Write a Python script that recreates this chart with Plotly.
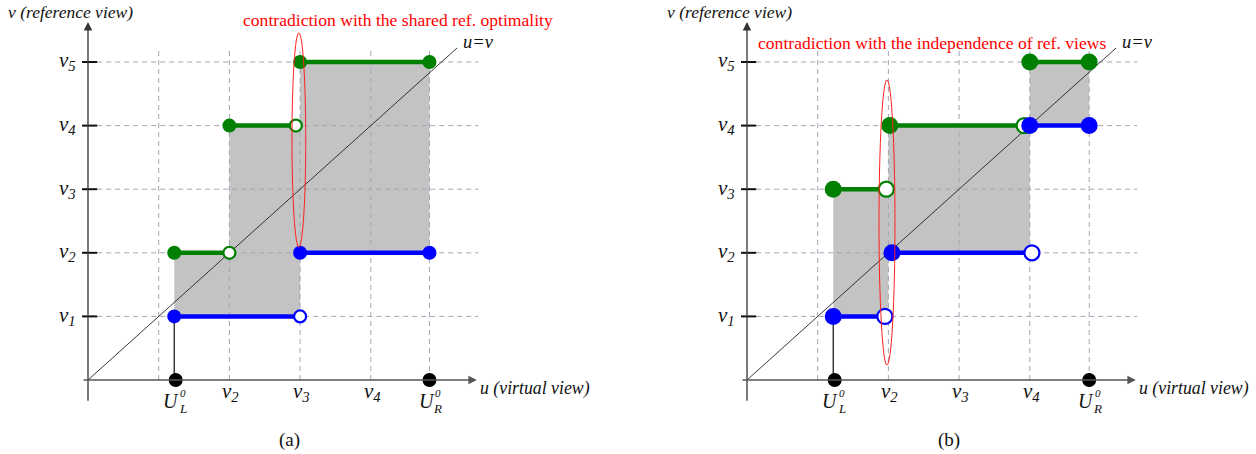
import plotly.graph_objects as go

# ---------------- data ----------------
LEVELS = [1, 2, 3, 4, 5]                 # v1..v5 (same positions on both axes, u=v)
LEVEL_NAMES = ["1", "2", "3", "4", "5"]
X_TICK_LEVELS = [2, 3, 4]                # v2, v3, v4 labelled on the u axis

# panel (a)
A_UL, A_UR = 1.22, 4.83
A_BREAKS = [1.22, 2.0, 3.0, 4.83]
A_LOWER = [1, 1, 2]
A_UPPER = [2, 4, 5]
A_GREEN_X0 = [1.22, 2.0, 3.0]
A_GREEN_X1 = [2.0, 2.94, 4.83]
A_GREEN_V = [2, 4, 5]
A_GREEN_OPEN_END = [True, True, False]
A_BLUE_X0 = [1.22, 3.0]
A_BLUE_X1 = [3.0, 4.83]
A_BLUE_V = [1, 2]
A_BLUE_OPEN_END = [True, False]
A_NOTE = "contradiction with the shared ref. optimality"
A_ELLIPSE = [2.885, 3.08, 2.09, 5.456]   # u0, u1, v0, v1

# panel (b)
B_UL, B_UR = 1.22, 4.84
B_BREAKS = [1.22, 2.0, 4.0, 4.84]
B_LOWER = [1, 2, 4]
B_UPPER = [3, 4, 5]
B_GREEN_X0 = [1.22, 2.02, 4.0]
B_GREEN_X1 = [1.97, 3.92, 4.84]
B_GREEN_V = [3, 4, 5]
B_GREEN_OPEN_END = [True, True, False]
B_BLUE_X0 = [1.22, 2.05, 4.0]
B_BLUE_X1 = [1.95, 4.03, 4.84]
B_BLUE_V = [1, 2, 4]
B_BLUE_OPEN_END = [True, True, False]
B_NOTE = "contradiction with the independence of ref. views"
B_ELLIPSE = [1.867, 2.093, 0.236, 4.717]

# ---------------- styles ----------------
SERIF = "Liberation Serif, Times New Roman, serif"
GREEN = "#008000"
BLUE = "#0000ff"
GRID = "#a4a4b4"
FILL = "#c3c3c3"
AXIS = "#333333"

PX_U = 70.7   # pixels per unit (u)
PX_V = 63.6   # pixels per unit (v)

fig = go.Figure()


def add_panel(ax, UL, UR, breaks, lower, upper, gx0, gx1, gv, gopen,
              bx0, bx1, bv, bopen, note, note_pos, ellipse, msize, caption):
    xa = "x" + ax
    ya = "y" + ax
    # gray region between the blue and green step functions
    px, py = [], []
    for i in range(len(lower)):
        px += [breaks[i], breaks[i + 1]]
        py += [lower[i], lower[i]]
    for i in reversed(range(len(upper))):
        px += [breaks[i + 1], breaks[i]]
        py += [upper[i], upper[i]]
    fig.add_trace(go.Scatter(x=px, y=py, fill="toself", fillcolor=FILL,
                             line=dict(width=0), mode="lines", hoverinfo="skip",
                             xaxis=xa, yaxis=ya, showlegend=False))
    # dashed grid
    for lv in LEVELS:
        fig.add_trace(go.Scatter(x=[0.13, 5.52], y=[lv, lv], mode="lines",
                                 line=dict(color=GRID, width=1, dash="5px,4px"),
                                 hoverinfo="skip", xaxis=xa, yaxis=ya, showlegend=False))
    for uu in LEVELS[:4] + [UR]:
        fig.add_trace(go.Scatter(x=[uu, uu], y=[0, 5.22], mode="lines",
                                 line=dict(color=GRID, width=1, dash="5px,4px"),
                                 hoverinfo="skip", xaxis=xa, yaxis=ya, showlegend=False))
    # diagonal u = v
    fig.add_trace(go.Scatter(x=[0, 5.22], y=[0, 5.22], mode="lines",
                             line=dict(color="#222222", width=0.9),
                             hoverinfo="skip", xaxis=xa, yaxis=ya, showlegend=False))
    # y tick marks
    for lv in LEVELS:
        fig.add_trace(go.Scatter(x=[-0.085, 0.13], y=[lv, lv], mode="lines",
                                 line=dict(color="#111111", width=2),
                                 hoverinfo="skip", xaxis=xa, yaxis=ya, showlegend=False))
    # black vertical line from U_L^0 to v1
    fig.add_trace(go.Scatter(x=[UL, UL], y=[0, LEVELS[0]], mode="lines",
                             line=dict(color="#222222", width=1.3),
                             hoverinfo="skip", xaxis=xa, yaxis=ya, showlegend=False))
    # step segments
    for color, x0s, x1s, vs, opens in ((GREEN, gx0, gx1, gv, gopen),
                                       (BLUE, bx0, bx1, bv, bopen)):
        for x0, x1, v, op in zip(x0s, x1s, vs, opens):
            fig.add_trace(go.Scatter(x=[x0, x1], y=[v, v], mode="lines",
                                     line=dict(color=color, width=4.5),
                                     hoverinfo="skip", xaxis=xa, yaxis=ya, showlegend=False))
        for x0, x1, v, op in zip(x0s, x1s, vs, opens):
            fig.add_trace(go.Scatter(x=[x0], y=[v], mode="markers",
                                     marker=dict(color=color, size=msize, line=dict(width=0)),
                                     hoverinfo="skip", xaxis=xa, yaxis=ya, showlegend=False))
            fig.add_trace(go.Scatter(x=[x1], y=[v], mode="markers",
                                     marker=dict(color="white" if op else color, size=msize - (2 if op else 0),
                                                 line=dict(color=color, width=2.2 if op else 0)),
                                     hoverinfo="skip", xaxis=xa, yaxis=ya, showlegend=False))
    # black dots U_L^0, U_R^0
    fig.add_trace(go.Scatter(x=[UL + 0.02, UR], y=[0, 0], mode="markers",
                             marker=dict(color="black", size=14),
                             hoverinfo="skip", xaxis=xa, yaxis=ya, showlegend=False))
    # axes with arrow heads
    fig.add_annotation(x=0, y=5.63, ax=0, ay=-0.35, xref=xa, yref=ya, axref=xa, ayref=ya,
                       text="", showarrow=True, arrowhead=2, arrowsize=1.3,
                       arrowwidth=1.3, arrowcolor=AXIS, standoff=0)
    fig.add_annotation(x=5.5, y=0, ax=-0.085, ay=0, xref=xa, yref=ya, axref=xa, ayref=ya,
                       text="", showarrow=True, arrowhead=2, arrowsize=1.3,
                       arrowwidth=1.3, arrowcolor="#555555", standoff=0)
    # red ellipse
    fig.add_shape(type="circle", xref=xa, yref=ya, x0=ellipse[0], x1=ellipse[1],
                  y0=ellipse[2], y1=ellipse[3], line=dict(color="#ff2020", width=1))
    # labels
    fig.add_annotation(x=note_pos[0], y=note_pos[1], xref=xa, yref=ya, text=note,
                       showarrow=False, font=dict(family=SERIF, size=17.6, color="#ff0000"))
    fig.add_annotation(x=5.28, y=5.31, xref=xa, yref=ya, text="<i>u=v</i>", xanchor="left",
                       showarrow=False, font=dict(family=SERIF, size=18.5, color="#111111"))
    fig.add_annotation(x=-0.25, y=5.79, xref=xa, yref=ya, text="<i>v (reference view)</i>",
                       showarrow=False, font=dict(family=SERIF, size=17.5, color="#111111"))
    fig.add_annotation(x=5.52, y=-0.13, xref=xa, yref=ya, text="<i>u (virtual view)</i>",
                       xanchor="left", showarrow=False,
                       font=dict(family=SERIF, size=17.8, color="#111111"))
    for lv, nm in zip(LEVELS, LEVEL_NAMES):
        fig.add_annotation(x=-0.14, y=lv + 0.01, xref=xa, yref=ya,
                           text="<i>v<sub>" + nm + "</sub></i>", xanchor="right",
                           showarrow=False, font=dict(family=SERIF, size=21, color="#111111"))
    for lv in X_TICK_LEVELS:
        fig.add_annotation(x=lv + 0.02, y=-0.19, xref=xa, yref=ya,
                           text="<i>v<sub>" + LEVEL_NAMES[lv - 1] + "</sub></i>",
                           showarrow=False, font=dict(family=SERIF, size=21, color="#111111"))
    for uu, sub in ((UL, "L"), (UR, "R")):
        fig.add_annotation(x=uu - 0.04, y=-0.33, xref=xa, yref=ya, text="<i>U</i>",
                           showarrow=False, font=dict(family=SERIF, size=20, color="#111111"))
        fig.add_annotation(x=uu + 0.12, y=-0.21, xref=xa, yref=ya, text="<i>0</i>",
                           showarrow=False, font=dict(family=SERIF, size=11, color="#111111"))
        fig.add_annotation(x=uu + 0.12, y=-0.45, xref=xa, yref=ya, text="<i>" + sub + "</i>",
                           showarrow=False, font=dict(family=SERIF, size=13, color="#111111"))
    fig.add_annotation(x=2.857, y=-0.94, xref=xa, yref=ya, text=caption,
                       showarrow=False, font=dict(family=SERIF, size=19, color="#111111"))


add_panel("", A_UL, A_UR, A_BREAKS, A_LOWER, A_UPPER,
          A_GREEN_X0, A_GREEN_X1, A_GREEN_V, A_GREEN_OPEN_END,
          A_BLUE_X0, A_BLUE_X1, A_BLUE_V, A_BLUE_OPEN_END,
          A_NOTE, (4.385, 5.66), A_ELLIPSE, 14, "(a)")
add_panel("2", B_UL, B_UR, B_BREAKS, B_LOWER, B_UPPER,
          B_GREEN_X0, B_GREEN_X1, B_GREEN_V, B_GREEN_OPEN_END,
          B_BLUE_X0, B_BLUE_X1, B_BLUE_V, B_BLUE_OPEN_END,
          B_NOTE, (2.617, 5.30), B_ELLIPSE, 17, "(b)")

W, H = 1256, 454
hidden = dict(visible=False, showgrid=False, zeroline=False, fixedrange=True)
fig.update_layout(
    width=W, height=H, margin=dict(l=0, r=0, t=0, b=0),
    paper_bgcolor="white", plot_bgcolor="white", showlegend=False,
    xaxis=dict(domain=[0, 0.5], range=[-88 / PX_U, 540 / PX_U], **hidden),
    yaxis=dict(domain=[0, 1], range=[-74 / PX_V, 380 / PX_V], **hidden),
    xaxis2=dict(domain=[0.5, 1], range=[-119 / PX_U, 509 / PX_U], anchor="y2", **hidden),
    yaxis2=dict(domain=[0, 1], range=[-74 / PX_V, 380 / PX_V], anchor="x2", **hidden),
)

fig.write_html("out.html", config={"displayModeBar": False},
               post_script="document.body.style.margin='0px';document.body.style.overflow='hidden';")
